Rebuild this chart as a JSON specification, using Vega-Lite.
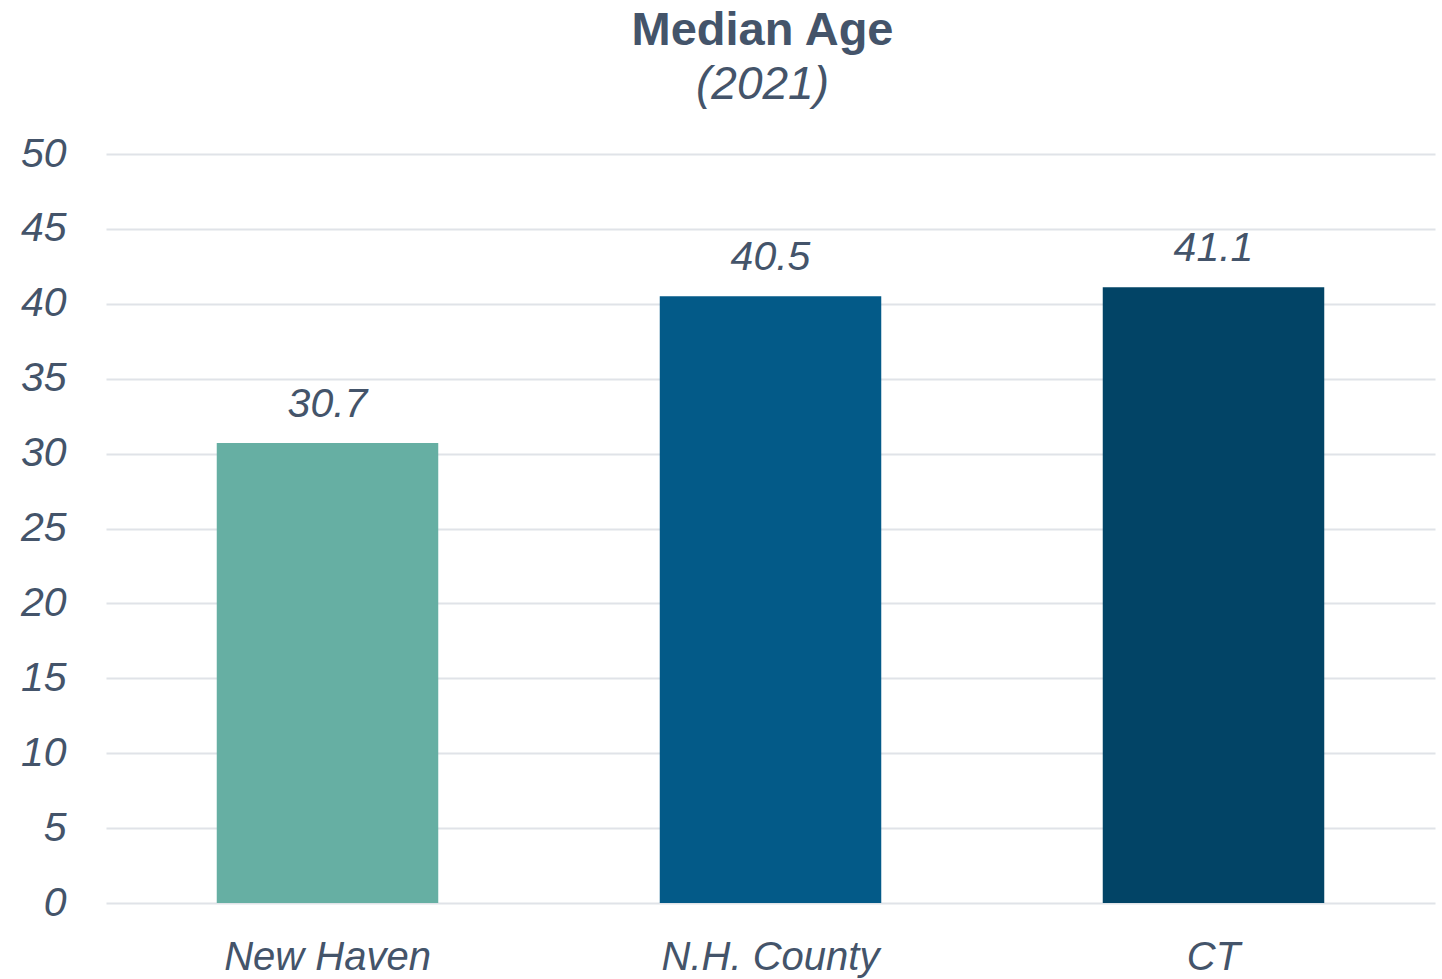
{
  "$schema": "https://vega.github.io/schema/vega-lite/v6.json",
  "width": 1329,
  "height": 749,
  "autosize": {"type": "none"},
  "padding": {"left": 106, "top": 154, "right": 7, "bottom": 76},
  "background": "white",
  "config": {
    "view": {"stroke": null},
    "font": "Liberation Sans"
  },
  "title": {
    "text": "Median Age",
    "subtitle": "(2021)",
    "fontSize": 47,
    "fontWeight": "bold",
    "color": "#44546a",
    "subtitleFontSize": 46,
    "subtitleFontStyle": "italic",
    "subtitleColor": "#44546a",
    "subtitlePadding": 8,
    "anchor": "middle",
    "dx": -8,
    "offset": 24
  },
  "data": {
    "values": [
      {"place": "New Haven", "age": 30.7},
      {"place": "N.H. County", "age": 40.5},
      {"place": "CT", "age": 41.1}
    ]
  },
  "encoding": {
    "x": {
      "field": "place",
      "type": "nominal",
      "sort": null,
      "scale": {"paddingInner": 0.5, "paddingOuter": 0.25},
      "axis": {
        "title": null,
        "labelAngle": 0,
        "labelFontSize": 40,
        "labelFontStyle": "italic",
        "labelColor": "#44546a",
        "labelPadding": 34,
        "labelLimit": 0,
        "ticks": false,
        "domain": false
      }
    },
    "y": {
      "field": "age",
      "type": "quantitative",
      "scale": {"domain": [0, 50]},
      "axis": {
        "title": null,
        "values": [0, 5, 10, 15, 20, 25, 30, 35, 40, 45, 50],
        "labelFontSize": 41,
        "labelFontStyle": "italic",
        "labelColor": "#44546a",
        "labelPadding": 40,
        "ticks": false,
        "domain": false,
        "gridColor": "#e0e3e8",
        "gridWidth": 2
      }
    }
  },
  "layer": [
    {
      "mark": {"type": "bar"},
      "encoding": {
        "color": {
          "field": "place",
          "type": "nominal",
          "scale": {
            "domain": ["New Haven", "N.H. County", "CT"],
            "range": ["#66afa3", "#035a88", "#024466"]
          },
          "legend": null
        }
      }
    },
    {
      "mark": {
        "type": "text",
        "baseline": "bottom",
        "dy": -17,
        "fontSize": 41,
        "fontStyle": "italic",
        "color": "#44546a"
      },
      "encoding": {
        "text": {"field": "age", "type": "quantitative", "format": ".1f"}
      }
    }
  ]
}
